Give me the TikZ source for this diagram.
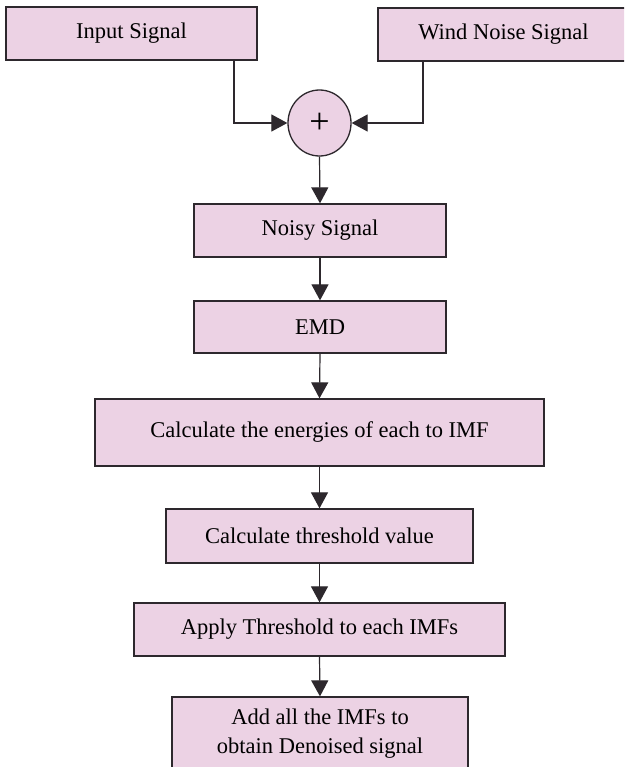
\documentclass[tikz,border=0pt]{standalone}
\usepackage{fontspec}
\setmainfont{Liberation Serif}
\usetikzlibrary{shapes.geometric,arrows.meta}
\definecolor{boxfill}{RGB}{236,210,228}
\definecolor{linec}{RGB}{45,40,45}
\tikzset{
  box/.style={draw=linec, fill=boxfill, line width=1.3pt, inner sep=0pt,
    font=\fontsize{22.5}{29}\selectfont, align=center, rectangle},
  sumnode/.style={draw=linec, fill=boxfill, line width=1.3pt, ellipse, inner sep=0pt,
    minimum width=63pt, minimum height=66pt},
  conn/.style={draw=linec, line width=1.2pt, -{Triangle[length=16pt,width=17pt]}}
}
\begin{document}
\begin{tikzpicture}[x=1pt,y=-1pt]
\clip (0,0) rectangle (624,767);
\fill[white] (0,0) rectangle (624,767);
\node[box, minimum width=251pt, minimum height=53pt] (in) at (131.5,33.5) {Input Signal};
\node[box, minimum width=251pt, minimum height=53pt] (wind) at (503.5,34.5) {Wind Noise Signal};
\node[sumnode] (sum) at (319.5,123) {\fontsize{36}{36}\selectfont +};
\node[box, minimum width=252pt, minimum height=53pt] (noisy) at (320,230.5) {Noisy Signal};
\node[box, minimum width=252pt, minimum height=52pt] (emd) at (320,327) {EMD};
\node[box, minimum width=449pt, minimum height=67pt] (energy) at (319.5,432.5) {Calculate the energies of each to IMF};
\node[box, minimum width=307pt, minimum height=54pt] (thr) at (319.5,536) {Calculate threshold value};
\node[box, minimum width=371pt, minimum height=53pt] (apply) at (319.5,629.5) {Apply Threshold to each IMFs};
\node[box, minimum width=296pt, minimum height=74pt] (final) at (320,734) {Add all the IMFs to\\obtain Denoised signal};
\draw[conn] ([xshift=102.5pt]in.south) |- (sum.west);
\draw[conn] ([xshift=-80.5pt]wind.south) |- (sum.east);
\draw[conn] (sum.south) -- (noisy.north);
\draw[conn] (noisy.south) -- (emd.north);
\draw[conn] (emd.south) -- (energy.north);
\draw[conn] (energy.south) -- (thr.north);
\draw[conn] (thr.south) -- (apply.north);
\draw[conn] (apply.south) -- (final.north);
\end{tikzpicture}
\end{document}
